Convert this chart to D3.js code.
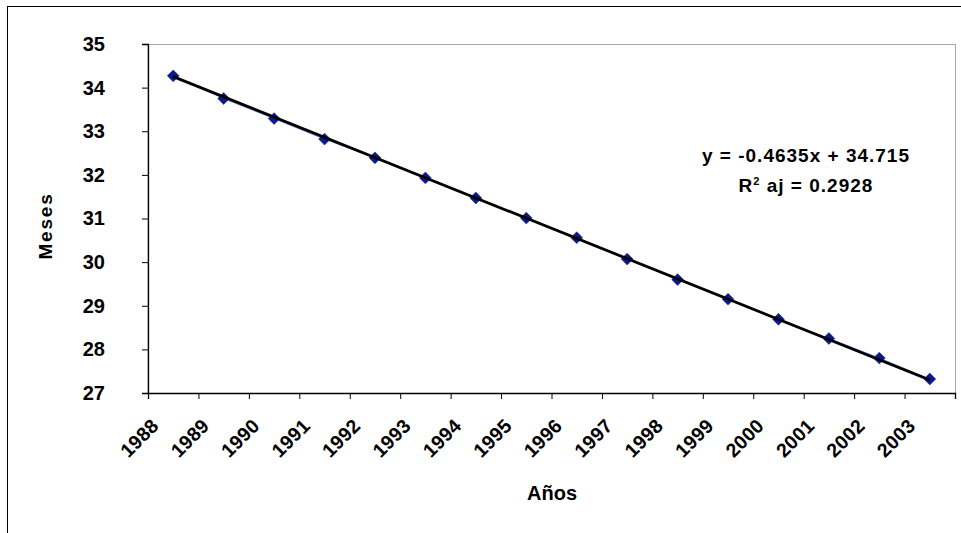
<!DOCTYPE html>
<html>
<head>
<meta charset="utf-8">
<script src="https://cdn.jsdelivr.net/npm/d3@7"></script>
<style>
  html, body { margin: 0; padding: 0; background: #fff; }
  svg { display: block; }
  text { font-family: "Liberation Sans", Arial, sans-serif; font-weight: bold; fill: #000; }
</style>
</head>
<body>
<svg id="chart" width="961" height="533"></svg>
<script>
// Categories (years) and monthly values
const years = ["1988","1989","1990","1991","1992","1993","1994","1995",
               "1996","1997","1998","1999","2000","2001","2002","2003"];
const meses = [34.27, 33.75, 33.29, 32.82, 32.39, 31.93, 31.47, 31.01,
               30.56, 30.07, 29.60, 29.15, 28.69, 28.25, 27.80, 27.32];
const yTicks = [27, 28, 29, 30, 31, 32, 33, 34, 35];

// Linear trend fitted on the category index (1..16)
const trendSlope = -0.4635;
const trendIntercept = 34.715;
const eqLines = ["y = -0.4635x + 34.715", "R² aj = 0.2928"];

const svg = d3.select("#chart");

const plot = { left: 148, top: 44, right: 955, bottom: 393 };

const x = d3.scaleLinear().domain([0, years.length]).range([plot.left, plot.right]);
const y = d3.scaleLinear().domain([27, 35]).range([plot.bottom, plot.top]);
const cx = i => x(i + 0.5);

// Outer chart frame
svg.append("rect")
  .attr("x", 7.5).attr("y", 6.5).attr("width", 1000).attr("height", 600)
  .attr("fill", "none").attr("stroke", "#000").attr("stroke-width", 1);

// Plot area border (grey)
svg.append("rect")
  .attr("x", plot.left).attr("y", plot.top + 0.5)
  .attr("width", plot.right - plot.left + 0.5).attr("height", plot.bottom - plot.top)
  .attr("fill", "none").attr("stroke", "#a8a8a8").attr("stroke-width", 1);

// Y axis
const yAxis = svg.append("g")
  .attr("transform", `translate(${plot.left},0)`)
  .call(d3.axisLeft(y).tickValues(yTicks).tickSize(6).tickPadding(37).tickFormat(d3.format("d")));
yAxis.select(".domain").attr("stroke", "#000").attr("stroke-width", 1.3);
yAxis.selectAll(".tick line").attr("stroke", "#000");
yAxis.selectAll(".tick text")
  .attr("font-size", 20).attr("font-family", "Liberation Sans, Arial, sans-serif")
  .attr("font-weight", "bold").attr("fill", "#000");

// X axis: ticks on category boundaries
const xAxis = svg.append("g")
  .attr("transform", `translate(0,${plot.bottom})`)
  .call(d3.axisBottom(x).tickValues(d3.range(years.length + 1)).tickSize(6).tickFormat(""));
xAxis.select(".domain").attr("stroke", "#000").attr("stroke-width", 1.3);
xAxis.selectAll(".tick line").attr("stroke", "#000");

// Rotated year labels
svg.append("g").selectAll("text")
  .data(years)
  .join("text")
  .attr("transform", (d, i) => `translate(${x(i) + 12},${plot.bottom + 34}) rotate(-45)`)
  .attr("text-anchor", "end")
  .attr("font-size", 19.5)
  .attr("letter-spacing", 0.3)
  .text(d => d);

// Axis titles
svg.append("text")
  .attr("x", 552).attr("y", 500)
  .attr("text-anchor", "middle")
  .attr("font-size", 20)
  .text("Años");

svg.append("text")
  .attr("transform", "translate(52,226) rotate(-90)")
  .attr("text-anchor", "middle")
  .attr("font-size", 19)
  .attr("letter-spacing", 1.8)
  .text("Meses");

// Data series line
svg.append("path")
  .datum(meses)
  .attr("fill", "none")
  .attr("stroke", "#5f72d6")
  .attr("stroke-width", 1)
  .attr("d", d3.line().x((d, i) => cx(i)).y(d => y(d)));

// Diamond markers
svg.append("g").selectAll("path")
  .data(meses)
  .join("path")
  .attr("transform", (d, i) => `translate(${cx(i)},${y(d)}) rotate(45)`)
  .attr("d", d3.symbol(d3.symbolSquare, 70))
  .attr("fill", "#0a1a8c")
  .attr("stroke", "#0a1a8c")
  .attr("stroke-width", 0.5);

// Trend line
const trendPts = [1, years.length].map(k => [cx(k - 1), y(trendIntercept + trendSlope * k)]);
svg.append("path")
  .attr("fill", "none")
  .attr("stroke", "#000")
  .attr("stroke-width", 2.8)
  .attr("d", d3.line()(trendPts));

// Trend equation label
const eq = svg.append("text")
  .attr("text-anchor", "middle")
  .attr("font-size", 19)
  .attr("letter-spacing", 1);
eq.append("tspan").attr("x", 806).attr("y", 162).text(eqLines[0]);
const l2 = eq.append("tspan").attr("x", 806).attr("y", 192);
l2.append("tspan").text("R");
l2.append("tspan").attr("dy", -7).attr("font-size", 11).text("2");
l2.append("tspan").attr("dy", 7).text(" aj = 0.2928");
</script>
</body>
</html>
